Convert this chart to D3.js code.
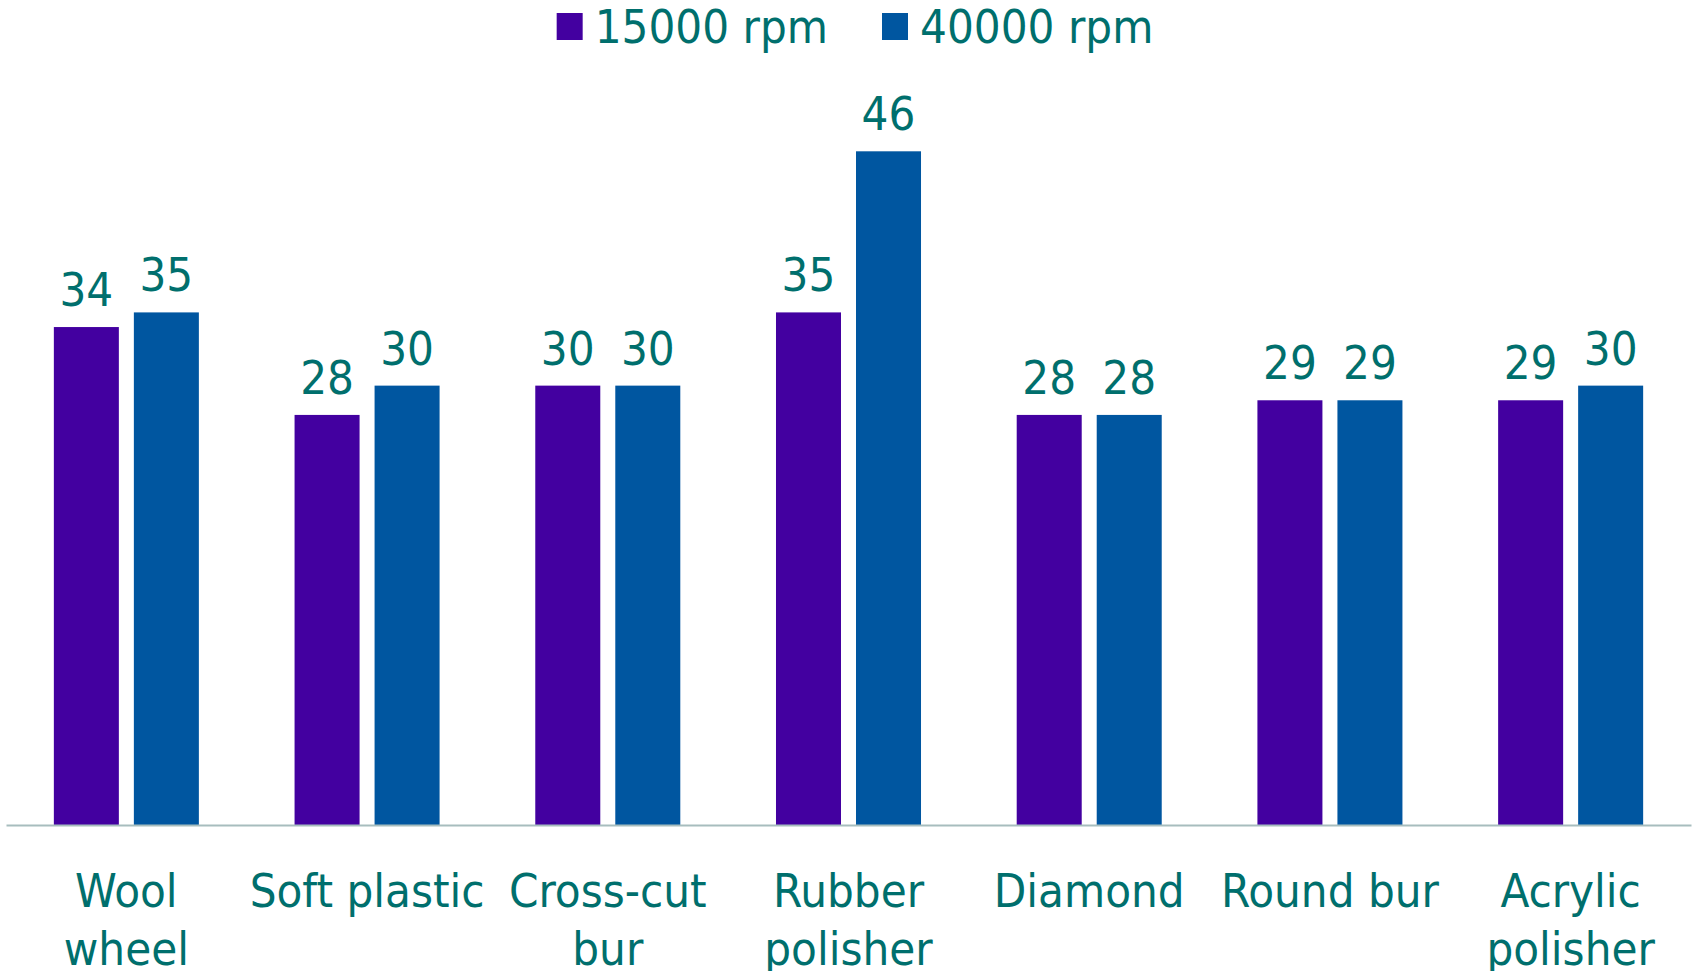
<!DOCTYPE html>
<html>
<head>
<meta charset="utf-8">
<script src="https://cdn.jsdelivr.net/npm/d3@7"></script>
<style>
  html, body { margin: 0; padding: 0; background: #ffffff; }
  svg { display: block; }
  text { font-family: "DejaVu Sans", "Liberation Sans", sans-serif; font-stretch: condensed; fill: #006f6d; }
</style>
</head>
<body>
<svg id="chart" width="1694" height="971"></svg>
<script>
// Polishing tools compared at two handpiece speeds
const categories = ["Wool wheel", "Soft plastic", "Cross-cut bur", "Rubber polisher", "Diamond", "Round bur", "Acrylic polisher"];
const seriesNames = ["15000 rpm", "40000 rpm"];
const values15000 = [34, 28, 30, 35, 28, 29, 29];
const values40000 = [35, 30, 30, 46, 28, 29, 30];
const seriesColors = ["#4300a0", "#0056a0"];

const plot = { left: 6, right: 1691, top: 151.3, bottom: 825 };
const fontSize = 47;

const svg = d3.select("#chart");

const rows = categories.map((c, i) => ({ category: c, values: [values15000[i], values40000[i]] }));

const x = d3.scaleBand().domain(categories).range([plot.left, plot.right]).padding(0);
const x1 = d3.scaleBand().domain(seriesNames).range([0, x.bandwidth()])
  .paddingInner(0.1875).paddingOuter(0.598);
const yMax = d3.max([...values15000, ...values40000]);
const y = d3.scaleLinear().domain([0, yMax]).range([plot.bottom, plot.top]);
const color = d3.scaleOrdinal().domain(seriesNames).range(seriesColors);

// Bars
const groups = svg.append("g").selectAll("g")
  .data(rows).join("g")
  .attr("transform", d => `translate(${x(d.category)},0)`);

groups.selectAll("rect")
  .data(d => d.values.map((v, k) => ({ key: seriesNames[k], value: v })))
  .join("rect")
  .attr("x", d => x1(d.key))
  .attr("width", x1.bandwidth())
  .attr("y", d => y(d.value))
  .attr("height", d => y(0) - y(d.value))
  .attr("fill", d => color(d.key));

// Value labels above each bar
groups.selectAll("text.value")
  .data(d => d.values.map((v, k) => ({ key: seriesNames[k], value: v })))
  .join("text")
  .attr("class", "value")
  .attr("x", d => x1(d.key) + x1.bandwidth() / 2)
  .attr("y", d => y(d.value) - 21)
  .attr("text-anchor", "middle")
  .style("font-size", fontSize + "px")
  .text(d => d.value);

// Category axis
const xAxis = svg.append("g")
  .attr("transform", `translate(0,${plot.bottom})`)
  .call(d3.axisBottom(x).tickSize(0).tickPadding(0));
xAxis.select(".domain").attr("stroke", "#a7bdbe").attr("stroke-width", 2);
xAxis.selectAll(".tick text").remove();

// Wrapped category labels, one line per word group that fits the band
const labelG = svg.append("g");
categories.forEach(cat => {
  const cx = x(cat) + x.bandwidth() / 2;
  const t = labelG.append("text")
    .attr("x", cx)
    .attr("y", 907)
    .attr("text-anchor", "middle")
    .style("font-size", fontSize + "px");
  const words = cat.split(" ");
  let line = [];
  let tspan = t.append("tspan").attr("x", cx).attr("dy", 0);
  words.forEach(w => {
    line.push(w);
    tspan.text(line.join(" "));
    if (tspan.node().getComputedTextLength() > x.bandwidth() && line.length > 1) {
      line.pop();
      tspan.text(line.join(" "));
      line = [w];
      tspan = t.append("tspan").attr("x", cx).attr("dy", 58).text(w);
    }
  });
});

// Legend, centred along the top
const legend = svg.append("g");
const items = legend.selectAll("g").data(seriesNames).join("g");
items.append("rect").attr("width", 26).attr("height", 27).attr("y", 13)
  .attr("fill", d => color(d));
items.append("text").attr("x", 38).attr("y", 43)
  .style("font-size", fontSize + "px").text(d => d);
const widths = [];
items.each(function () {
  widths.push(38 + d3.select(this).select("text").node().getComputedTextLength());
});
const gapBetween = 54;
const total = d3.sum(widths) + gapBetween * (widths.length - 1);
let cursor = 855 - total / 2;
items.attr("transform", (d, i) => {
  const tx = cursor;
  cursor += widths[i] + gapBetween;
  return `translate(${tx},0)`;
});
</script>
</body>
</html>
